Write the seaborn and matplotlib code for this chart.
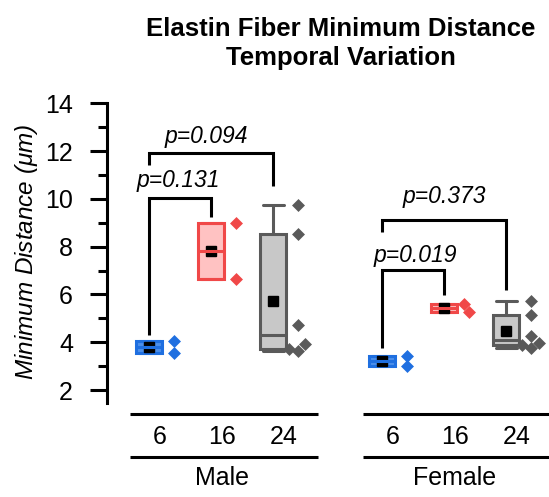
import numpy as np
import pandas as pd
import matplotlib
matplotlib.use("Agg")
import matplotlib.pyplot as plt
import matplotlib.cbook as cbook
import matplotlib.transforms as mtrans
import seaborn as sns

# ---------------- data ----------------
sexes = ["Male", "Female"]
ages = ["6", "16", "24"]
male_6 = [3.55, 4.05]
male_16 = [6.64, 9.00]
male_24 = [3.65, 3.72, 3.93, 4.72, 8.52, 9.75]
female_6 = [3.00, 3.42]
female_16 = [5.27, 5.60]
female_24 = [3.75, 3.88, 3.95, 4.28, 5.14, 5.72]
p_male = ["p=0.131", "p=0.094"]
p_female = ["p=0.019", "p=0.373"]
title_lines = ["Elastin Fiber Minimum Distance", "Temporal Variation"]
y_label = "Minimum Distance ($\\mu$m)"

groups = {"Male": [male_6, male_16, male_24],
          "Female": [female_6, female_16, female_24]}
pvals = {"Male": p_male, "Female": p_female}

rows = []
for s in sexes:
    for a, vals in zip(ages, groups[s]):
        for v in vals:
            rows.append((s, a, v))
df = pd.DataFrame(rows, columns=["sex", "age", "value"])

# ---------------- styles ----------------
edge_cols = ["#1f6fe0", "#f04848", "#5a5a5a"]
fill_cols = ["#4d8fea", "#ffc2c2", "#c8c8c8"]
LW = 2.2
BOX_OFF = -0.17
PT_OFF = 0.23

# Tukey hinges for quartiles (box spans hinges)
_orig_stats = cbook.boxplot_stats


def tukey_stats(X, *args, **kwargs):
    stats = _orig_stats(X, *args, **kwargs)
    whis = kwargs.get("whis", 1.5)
    try:
        arrays = cbook._reshape_2D(X, "X")
    except Exception:
        arrays = [np.asarray(X, float)]
    for st, arr in zip(stats, arrays):
        x = np.sort(np.asarray(arr, float).ravel())
        n = len(x)
        if n == 0:
            continue
        q1 = np.median(x[:(n + 1) // 2])
        q3 = np.median(x[n // 2:])
        iqr = q3 - q1
        lo = x[x >= q1 - whis * iqr].min()
        hi = x[x <= q3 + whis * iqr].max()
        st["q1"], st["q3"], st["iqr"] = q1, q3, iqr
        st["whislo"], st["whishi"] = lo, hi
        st["fliers"] = x[(x < lo) | (x > hi)]
    return stats


matplotlib.cbook.boxplot_stats = tukey_stats

sns.set_style("white")
plt.rcParams["font.family"] = ["Liberation Sans", "DejaVu Sans"]
plt.rcParams["mathtext.fontset"] = "custom"
plt.rcParams["mathtext.it"] = "Liberation Sans:italic"
plt.rcParams["mathtext.rm"] = "Liberation Sans"
for k in ("text.color", "axes.labelcolor", "xtick.color", "ytick.color"):
    plt.rcParams[k] = "black"

W, H = 549, 497
fig = plt.figure(figsize=(W / 100, H / 100), dpi=100)
ax_top_px, ax_bot_px = 103.3, 403.0
bottom = 1 - ax_bot_px / H
height = (ax_bot_px - ax_top_px) / H
ax1 = fig.add_axes([107 / W, bottom, (330 - 107) / W, height])
ax2 = fig.add_axes([345 / W, bottom, (W - 345) / W, height], sharey=ax1)

px_per_unit = 62.0
ax_info = {"Male": (ax1, 160.0, 107.0, 330.0), "Female": (ax2, 393.0, 345.0, W)}

for s in sexes:
    ax, c0, lpx, rpx = ax_info[s]
    sub = df[df.sex == s]
    for i, a in enumerate(ages):
        g = sub[sub.age == a]
        sns.boxplot(x=np.full(len(g), i + BOX_OFF), y=g["value"].to_numpy(),
                    native_scale=True, width=0.42, color=fill_cols[i],
                    linecolor=edge_cols[i], linewidth=LW, saturation=1,
                    whis=1.5, showfliers=False, showmeans=True,
                    capwidths=0.34,
                    meanprops=dict(marker="s", markerfacecolor="black",
                                   markeredgecolor="black", markersize=6.5,
                                   zorder=2.1),
                    medianprops=dict(zorder=2.3, color=edge_cols[i]),
                    ax=ax)
        sns.swarmplot(x=np.full(len(g), i + PT_OFF), y=g["value"].to_numpy(),
                      native_scale=True, marker="D", size=6.6,
                      color=edge_cols[i], linewidth=0, ax=ax)
    ax.set_xlim((lpx - c0) / px_per_unit, (rpx - c0) / px_per_unit)

ax1.set_ylim(1.46, 14)

# brackets: (group a, group b, top y, leg end a, leg end b, text y)
brackets = {
    "Male": [(0, 1, 10.04, 4.31, 9.24, 10.78), (0, 2, 11.92, 11.42, 10.54, 12.6)],
    "Female": [(0, 1, 7.03, 3.76, 5.98, 7.62), (0, 2, 9.12, 8.63, 6.19, 10.1)],
}
text_shift = {"Male": [-0.03, -0.09], "Female": [0.03, 0.0]}
for s in sexes:
    ax = ax_info[s][0]
    for (ga, gb, ytop, ya, yb, ty), ptxt, dx in zip(brackets[s], pvals[s], text_shift[s]):
        xa, xb = ga + BOX_OFF, gb + BOX_OFF
        ax.plot([xa, xa, xb, xb], [ya, ytop, ytop, yb], color="black", lw=LW,
                solid_joinstyle="miter", solid_capstyle="butt", clip_on=False,
                zorder=3)
        ax.text((xa + xb) / 2 + dx, ty, ptxt, ha="center", va="center",
                fontsize=16.5, style="italic", color="black")

# axes styling
for ax in (ax1, ax2):
    for sp in ("top", "right", "bottom"):
        ax.spines[sp].set_visible(False)
    ax.set_xlabel("")
    ax.set_ylabel("")
    ax.set_xticks([0, 1, 2])
    ax.set_xticklabels(ages)
    ax.tick_params(axis="x", length=0, pad=15.5, labelsize=18, colors="black")
    ax.patch.set_alpha(0)

ax1.spines["left"].set_linewidth(LW)
ax1.spines["left"].set_color("black")
ax1.set_yticks([2, 4, 6, 8, 10, 12, 14])
ax1.set_yticks([3, 5, 7, 9, 11, 13], minor=True)
ax1.tick_params(axis="y", which="major", length=12, width=LW, direction="out",
                labelsize=18, pad=12.5, colors="black", left=True)
ax1.tick_params(axis="y", which="minor", length=6.5, width=LW, direction="out",
                left=True)
ax2.spines["left"].set_visible(False)
ax2.tick_params(axis="y", which="both", left=False, labelleft=False)

ax1.set_ylabel(y_label, fontsize=17.5, style="italic")
ax1.yaxis.set_label_coords((40 - 107) / (330 - 107), 0.504)

# group separators and group labels below the axes
ax_h = ax_bot_px - ax_top_px
line_specs = {"Male": (130.0, 318.0), "Female": (363.0, 560.0)}
for s in sexes:
    ax, c0, _, _ = ax_info[s]
    tr = mtrans.blended_transform_factory(ax.transData, ax.transAxes)
    x0 = (line_specs[s][0] - c0) / px_per_unit
    x1 = (line_specs[s][1] - c0) / px_per_unit
    for ypx in (414.0, 457.0):
        yf = -(ypx - ax_bot_px) / ax_h
        ax.plot([x0, x1], [yf, yf], transform=tr, color="black", lw=LW,
                clip_on=False, solid_capstyle="butt")
    ax.text(1.0, -(478 - ax_bot_px) / ax_h, s, transform=tr, ha="center",
            va="center", fontsize=18, color="black")

fig.text(0.621, 1 - 29 / H, title_lines[0], ha="center", va="center",
         fontsize=18.5, fontweight="bold", color="black")
fig.text(0.621, 1 - 58 / H, title_lines[1], ha="center", va="center",
         fontsize=18.5, fontweight="bold", color="black")

fig.savefig("out.png", dpi=100)
